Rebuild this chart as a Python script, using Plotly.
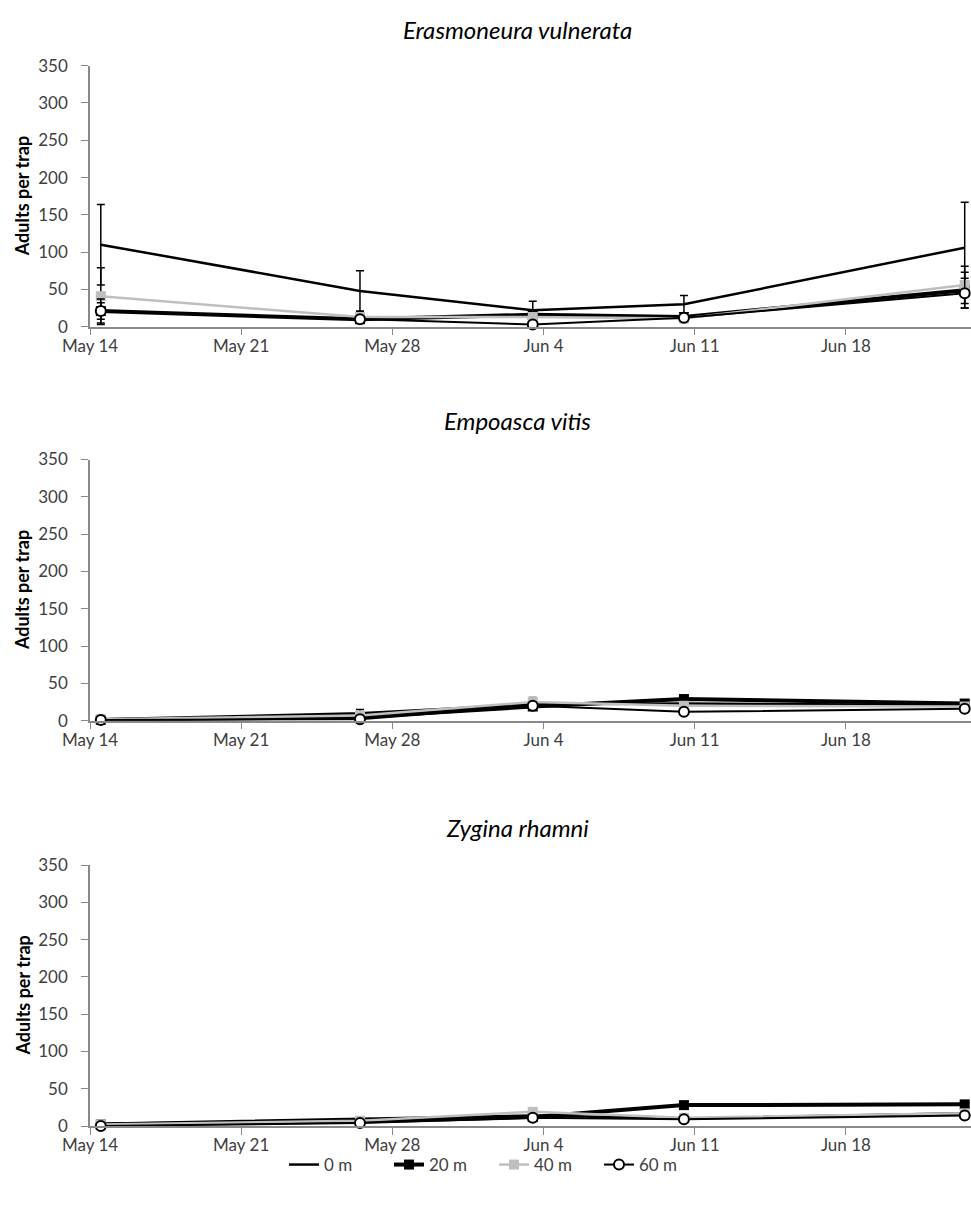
import plotly.graph_objects as go

# ---------------- data ----------------
dates = ["2014-05-14 12:00", "2014-05-26 12:00", "2014-06-03 12:00",
         "2014-06-10 12:00", "2014-06-23 12:00"]
species = ["Erasmoneura vulnerata", "Empoasca vitis", "Zygina rhamni"]
series_names = ["0 m", "20 m", "40 m", "60 m"]

# Erasmoneura vulnerata
ev_0m = [110, 48, 22, 30, 106]
ev_20m = [21, 10, 16, 13, 49]
ev_40m = [41, 13, 13, 11, 56]
ev_60m = [21, 10, 3, 12, 45]
ev_0m_err = [54, 27, 12, 12, 61]
ev_20m_err = [11, 5, 4, 3, 24]
ev_40m_err = [38, 7, 5, 3, 25]
ev_60m_err = [16, 4, 2, 3, 20]

# Empoasca vitis
vi_0m = [2, 10, 22, 23, 21]
vi_20m = [1, 5, 19, 29, 23]
vi_40m = [2, 7, 25, 20, 19]
vi_60m = [1, 2, 20, 12, 16]
vi_0m_err = [1, 5, 5, 4, 4]
vi_20m_err = [1, 2, 4, 3, 3]
vi_40m_err = [1, 3, 6, 4, 3]
vi_60m_err = [1, 1, 3, 2, 2]

# Zygina rhamni
zr_0m = [3, 9, 14, 10, 17]
zr_20m = [2, 6, 12, 28, 29]
zr_40m = [2, 7, 19, 11, 17]
zr_60m = [0, 4, 11, 9, 14]
zr_0m_err = [1, 2, 2, 2, 2]
zr_20m_err = [1, 1, 2, 2, 2]
zr_40m_err = [1, 1, 2, 2, 2]
zr_60m_err = [0, 1, 1, 1, 1]

y_ticks = [0, 50, 100, 150, 200, 250, 300, 350]
x_ticks = ["2014-05-14", "2014-05-21", "2014-05-28", "2014-06-04",
           "2014-06-11", "2014-06-18"]
x_ticklabels = ["May 14", "May 21", "May 28", "Jun 4", "Jun 11", "Jun 18"]

panels = [
    (species[0], [ev_0m, ev_20m, ev_40m, ev_60m], [ev_0m_err, ev_20m_err, ev_40m_err, ev_60m_err]),
    (species[1], [vi_0m, vi_20m, vi_40m, vi_60m], [vi_0m_err, vi_20m_err, vi_40m_err, vi_60m_err]),
    (species[2], [zr_0m, zr_20m, zr_40m, zr_60m], [zr_0m_err, zr_20m_err, zr_40m_err, zr_60m_err]),
]

# ---------------- styles ----------------
W, H = 971, 1208
FONT = "Lato"
GRAY = "#bfbfbf"
AXIS = "#898989"
TXT = "#404040"
styles = {
    "0 m": dict(mode="lines", line=dict(color="black", width=2.5)),
    "20 m": dict(mode="lines+markers", line=dict(color="black", width=4),
                 marker=dict(symbol="square", size=10, color="black")),
    "40 m": dict(mode="lines+markers", line=dict(color=GRAY, width=2.5),
                 marker=dict(symbol="square", size=10, color=GRAY)),
    "60 m": dict(mode="lines+markers", line=dict(color="black", width=2),
                 marker=dict(symbol="circle", size=10, color="white",
                             line=dict(color="black", width=2))),
}

# pixel layout of the plot areas (top px of 350, bottom px of 0)
plot_px = [(65.7, 326.7), (459.5, 720.7), (865.0, 1126.0)]
title_px = [30, 420, 828]
left_px, right_px = 90, 971


def fx(px):
    return px / W


def fy(py):
    return 1 - py / H


fig = go.Figure()
for i, (name, vals, errs) in enumerate(panels):
    ax = "" if i == 0 else str(i + 1)
    for sname, v, e in zip(series_names, vals, errs):
        fig.add_trace(go.Scatter(
            x=dates, y=v, name=sname,
            error_y=dict(type="data", array=e, visible=True, color="black",
                         thickness=1.5, width=4),
            xaxis="x" + ax, yaxis="y" + ax,
            showlegend=(i == 0), cliponaxis=False,
            **styles[sname]))
    top, bot = plot_px[i]
    fig.layout["xaxis" + ax] = dict(
        domain=[fx(left_px), fx(right_px)], anchor="y" + ax, automargin=False,
        range=["2014-05-14 00:00", "2014-06-23 19:00"],
        tickvals=x_ticks, ticktext=x_ticklabels,
        ticks="outside", ticklen=7, tickcolor=AXIS,
        showline=True, linecolor=AXIS, linewidth=1.5,
        showgrid=False, zeroline=False, ticklabelstandoff=-4,
        tickfont=dict(family=FONT, size=17, color=TXT))
    fig.layout["yaxis" + ax] = dict(
        domain=[fy(bot), fy(top)], anchor="x" + ax, automargin=False,
        range=[0, 350], tickvals=y_ticks,
        ticks="outside", ticklen=7, tickcolor=AXIS,
        showline=True, linecolor=AXIS, linewidth=1.5,
        showgrid=False, zeroline=False, ticklabelstandoff=10,
        tickfont=dict(family=FONT, size=17, color=TXT))
    fig.add_annotation(text=name, xref="paper", yref="paper",
                       x=fx(517), y=fy(title_px[i]), showarrow=False,
                       font=dict(family=FONT, size=24, color="black", style="italic"),
                       xanchor="center", yanchor="middle")
    fig.add_annotation(text="<b>Adults per trap</b>", xref="paper", yref="paper",
                       x=fx(22), y=fy((top + bot) / 2), showarrow=False,
                       textangle=-90, font=dict(family=FONT, size=18, color="black"),
                       xanchor="center", yanchor="middle")

fig.update_layout(
    width=W, height=H, margin=dict(l=0, r=0, t=0, b=0, autoexpand=False),
    plot_bgcolor="white", paper_bgcolor="white",
    legend=dict(orientation="h", x=fx(494), xanchor="center", y=fy(1165),
                yanchor="middle", bgcolor="rgba(0,0,0,0)",
                entrywidth=60, entrywidthmode="pixels",
                font=dict(family=FONT, size=17, color=TXT)),
)

fig.write_html("out.html",
               config={"displayModeBar": False},
               post_script="document.body.style.margin='0';"
                           "document.body.style.overflow='hidden';")
